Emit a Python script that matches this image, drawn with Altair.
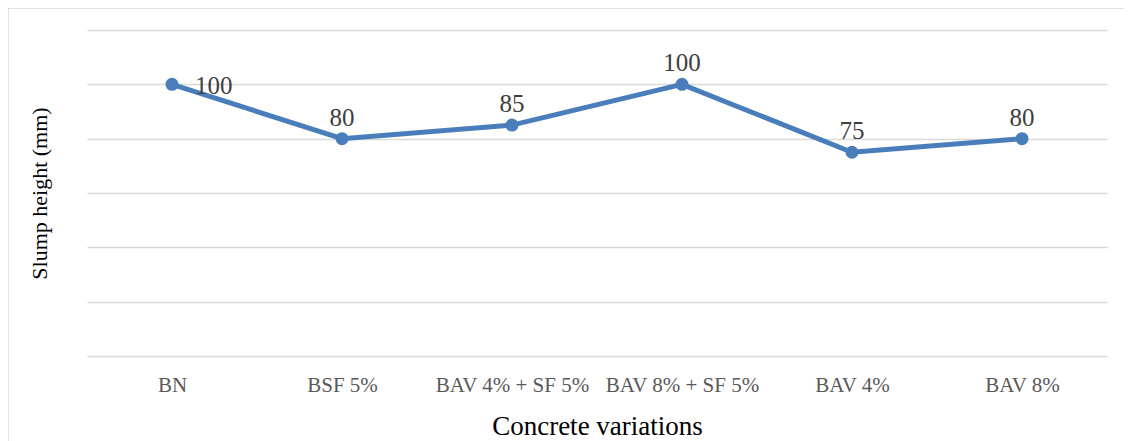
import altair as alt
import pandas as pd

categories = ["BN", "BSF 5%", "BAV 4% + SF 5%", "BAV 8% + SF 5%", "BAV 4%", "BAV 8%"]
slump = [100, 80, 85, 100, 75, 80]
y_ticks = [0, 20, 40, 60, 80, 100, 120]

df = pd.DataFrame({"category": categories, "slump": slump})

FONT = "Liberation Serif"
BLUE = "#4a7ebb"

x_enc = alt.X(
    "category:N",
    sort=categories,
    title="Concrete variations",
    axis=alt.Axis(
        labelAngle=0,
        labelFontSize=21,
        labelColor="#595959",
        labelFont=FONT,
        labelPadding=18,
        ticks=False,
        domain=False,
        grid=False,
        titleFont=FONT,
        titleFontSize=27,
        titleFontWeight="normal",
        titleColor="#000000",
        titlePadding=18,
    ),
)
y_enc = alt.Y(
    "slump:Q",
    scale=alt.Scale(domain=[0, 120], nice=False),
    title="Slump height (mm)",
    axis=alt.Axis(
        values=y_ticks,
        labels=False,
        ticks=False,
        domain=False,
        grid=True,
        gridColor="#d9d9d9",
        gridWidth=1.5,
        titleFont=FONT,
        titleFontSize=22,
        titleFontWeight="normal",
        titleColor="#000000",
        titlePadding=36,
    ),
)

base = alt.Chart(df)

border = base.mark_rect(fill=None, stroke="#d9d9d9", strokeWidth=1.5, clip=False).encode(
    x=alt.value(-79), x2=alt.value(1100), y=alt.value(-22), y2=alt.value(460)
).transform_filter(alt.datum.category == "BN")

line = base.mark_line(color=BLUE, strokeWidth=5).encode(x=x_enc, y=y_enc)
points = base.mark_circle(color=BLUE, size=170, opacity=1).encode(x=x_enc, y=y_enc)

labels_above = base.mark_text(
    font=FONT, fontSize=25, color="#404040", dy=-21, align="center", baseline="middle"
).encode(x=x_enc, y=y_enc, text="slump:Q").transform_filter(alt.datum.category != "BN")

label_right = base.mark_text(
    font=FONT, fontSize=25, color="#404040", dx=23, dy=2, align="left", baseline="middle"
).encode(x=x_enc, y=y_enc, text="slump:Q").transform_filter(alt.datum.category == "BN")

chart = (
    alt.layer(border, line, points, labels_above, label_right)
    .properties(
        width=1020,
        height=326,
        padding={"left": 79, "top": 22, "right": 17, "bottom": 85},
        autosize=alt.AutoSizeParams(type="none"),
        background="white",
    )
    .configure_view(stroke=None)
)

chart.save("out.html", embed_options={"renderer": "svg", "actions": False})
